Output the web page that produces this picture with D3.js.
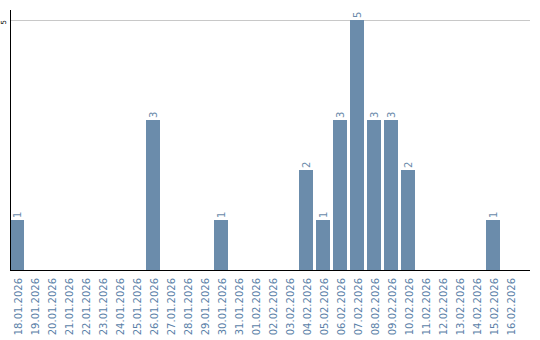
<!DOCTYPE html>
<html><head><meta charset="utf-8">
<script src="https://cdn.jsdelivr.net/npm/d3@7"></script>
<style>body{margin:0;background:#fff}svg{display:block}</style>
</head><body>
<script>
const categories = ["18.01.2026","19.01.2026","20.01.2026","21.01.2026","22.01.2026","23.01.2026","24.01.2026","25.01.2026","26.01.2026","27.01.2026","28.01.2026","29.01.2026","30.01.2026","31.01.2026","01.02.2026","02.02.2026","03.02.2026","04.02.2026","05.02.2026","06.02.2026","07.02.2026","08.02.2026","09.02.2026","10.02.2026","11.02.2026","12.02.2026","13.02.2026","14.02.2026","15.02.2026","16.02.2026"];
const values = [1,0,0,0,0,0,0,0,3,0,0,0,1,0,0,0,0,2,1,3,5,3,3,2,0,0,0,0,1,0];
const yTicks = [5];

const W = 540, H = 340;
const svg = d3.select("body").append("svg").attr("width", W).attr("height", H);
const x = d3.scaleBand().domain(categories).range([10, 517]).paddingInner(3/17).paddingOuter(0).align(0);
const y = d3.scaleLinear().domain([0, 5]).range([270, 20]);

// gridline
svg.selectAll("line.grid").data(yTicks).join("line")
  .attr("x1", 10).attr("x2", 530).attr("y1", d => y(d)+0.5).attr("y2", d => y(d)+0.5)
  .attr("stroke", "#c8c8c8").attr("stroke-width", 1);

const data = categories.map((c,i)=>({c,v:values[i]})).filter(d=>d.v>0);

// bars
svg.selectAll("rect.bar").data(data).join("rect")
  .attr("x", d => x(d.c)).attr("y", d => y(d.v)).attr("width", x.bandwidth()).attr("height", d => y(0)-y(d.v))
  .attr("fill", "#6b8cab").attr("shape-rendering","crispEdges");

// value labels
svg.selectAll("text.val").data(data).join("text")
  .attr("transform", d => `translate(${x(d.c)+x.bandwidth()/2+4},${y(d.v)-2}) rotate(-90)`)
  .attr("font-family","DejaVu Sans").attr("font-size", 10).attr("fill", "#6a8aaa")
  .text(d => d.v);

// y tick labels
svg.selectAll("text.yt").data(yTicks).join("text")
  .attr("transform", d => `translate(6,${y(d)}) rotate(-90)`)
  .attr("text-anchor","end")
  .attr("font-family","DejaVu Sans").attr("font-size", 7).attr("fill", "#000")
  .text(d => d);

// x labels
svg.selectAll("text.xl").data(categories).join("text")
  .attr("transform", d => `translate(${x(d)+x.bandwidth()/2+5},278) rotate(-90)`)
  .attr("text-anchor","end")
  .attr("font-family","DejaVu Sans").attr("font-size", 10).attr("fill", "#5b7fa8")
  .text(d => d);

// axes lines
svg.append("line").attr("x1",10.5).attr("x2",10.5).attr("y1",10).attr("y2",270).attr("stroke","#000").attr("stroke-width",1);
svg.append("line").attr("x1",10).attr("x2",530).attr("y1",270.5).attr("y2",270.5).attr("stroke","#000").attr("stroke-width",1);
</script>
</body></html>
